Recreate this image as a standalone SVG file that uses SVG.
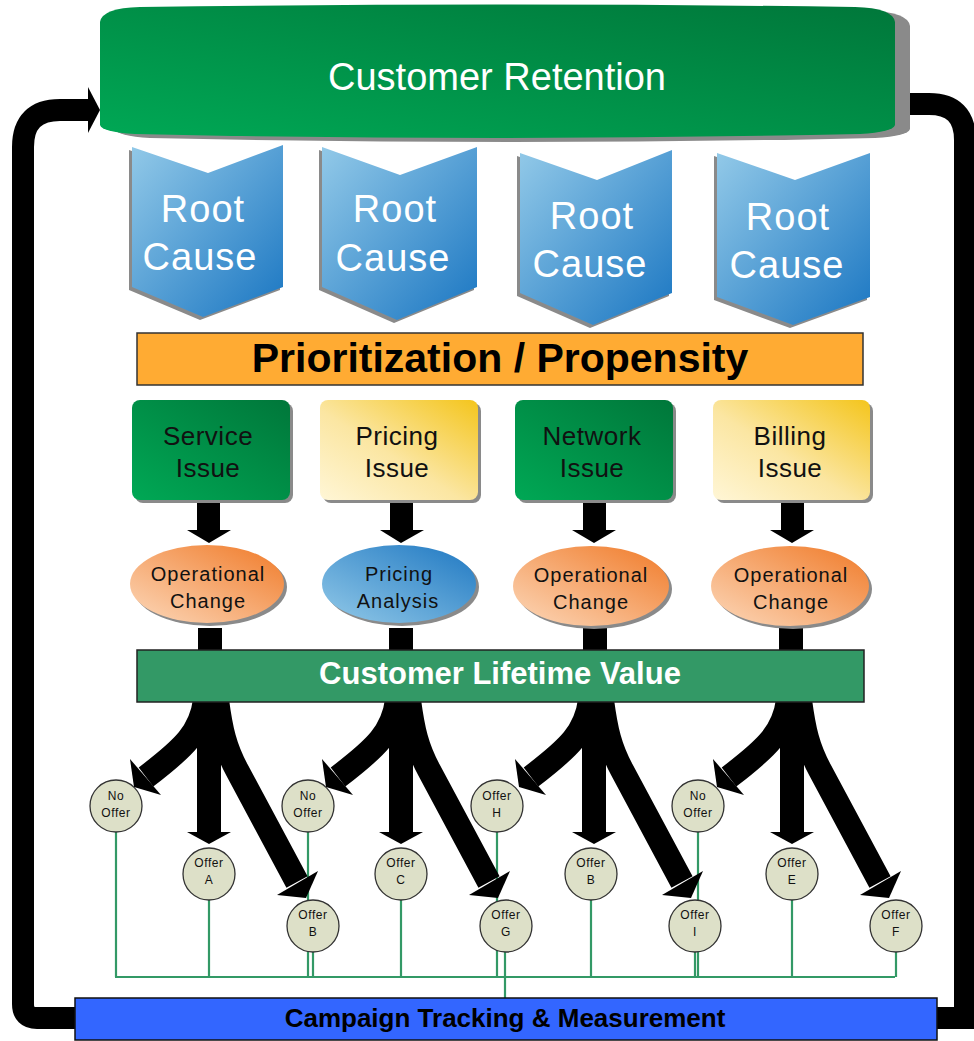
<svg xmlns="http://www.w3.org/2000/svg" width="974" height="1041" viewBox="0 0 974 1041">
<defs>
<linearGradient id="gBanner" x1="0" y1="1" x2="1" y2="0"><stop offset="0" stop-color="#00a855"/><stop offset="1" stop-color="#00773a"/></linearGradient>
<linearGradient id="gBlue" x1="0" y1="0" x2="1" y2="1"><stop offset="0" stop-color="#92c9e8"/><stop offset="1" stop-color="#1a76c2"/></linearGradient>
<linearGradient id="gGreen" x1="0" y1="1" x2="1" y2="0"><stop offset="0" stop-color="#00a855"/><stop offset="1" stop-color="#00773a"/></linearGradient>
<linearGradient id="gYellow" x1="0" y1="1" x2="1" y2="0"><stop offset="0" stop-color="#fff6d6"/><stop offset="0.45" stop-color="#fbe6a2"/><stop offset="1" stop-color="#f4c51c"/></linearGradient>
<linearGradient id="gOrange" x1="0" y1="1" x2="1" y2="0"><stop offset="0" stop-color="#fcd8ba"/><stop offset="1" stop-color="#f07a28"/></linearGradient>
<linearGradient id="gOvalBlue" x1="0" y1="1" x2="1" y2="0"><stop offset="0" stop-color="#92c9e8"/><stop offset="1" stop-color="#1f78c2"/></linearGradient>
<style>
.t{font-family:"Liberation Sans",Arial,sans-serif;}
.sh{fill:#8a8a8a;}
.rc{font-size:38px;fill:#fff;text-anchor:middle;letter-spacing:1px;}
.iss{font-size:26px;fill:#111;text-anchor:middle;letter-spacing:0.5px;}
.ov{font-size:20px;fill:#111;text-anchor:middle;letter-spacing:1px;}
.ci{fill:#dde0c8;stroke:#333;stroke-width:1.3;}
.ct{font-size:12px;fill:#111;text-anchor:middle;letter-spacing:0.6px;}
.gl{stroke:#339966;stroke-width:2.2;fill:none;}
.blk{fill:#000;}
.br{fill:none;stroke:#000;stroke-width:24;}
</style>
</defs>
<rect width="974" height="1041" fill="#fff"/>

<g id="connectors">
  <path d="M90,110 L60,110 Q23,110 23,147 L23,1004 Q23,1018 37,1018 L965,1018 L965,140 Q965,104 929,104 L900,104" fill="none" stroke="#000" stroke-width="22"/>
  <polygon class="blk" points="88,87 100,110 88,133"/>
  <polygon class="blk" points="901,81 889,104 901,127"/>
  <path class="gl" d="M115,977 L895,977"/>
  <path class="gl" d="M116,832 V977 M209,900 V977 M308,832 V977 M313,952 V977 M401,900 V977 M497,832 V977 M505,952 V998 M591,900 V977 M698,832 V977 M695,952 V977 M792,900 V977 M896,952 V977"/>
  <g class="blk">
    <rect x="197" y="503" width="23" height="27"/><polygon points="187,530 231,530 209,543"/>
    <rect x="390" y="503" width="23" height="27"/><polygon points="380,530 424,530 401,543"/>
    <rect x="583" y="503" width="23" height="27"/><polygon points="572,530 616,530 594,543"/>
    <rect x="781" y="503" width="23" height="27"/><polygon points="770,530 814,530 792,543"/>
  </g>
  <g class="blk">
    <rect x="198" y="628" width="24" height="23"/>
    <rect x="389" y="628" width="24" height="23"/>
    <rect x="583" y="628" width="24" height="23"/>
    <rect x="779" y="628" width="24" height="23"/>
  </g>
  <g id="branch1" transform="translate(209,0)">
    <path class="br" d="M-4,700 C-8,732 -25,748 -63,777"/>
    <polygon class="blk" points="-48,795 -79,759 -75,787"/>
    <rect class="blk" x="-12" y="700" width="24" height="132"/>
    <polygon class="blk" points="-22,832 22,832 0,844"/>
    <path class="br" d="M8,700 C12,730 16,748 28,770 L88,882"/>
    <polygon class="blk" points="109,871 68,895 97,898"/>
  </g>
  <g id="branch2" transform="translate(401,0)">
    <path class="br" d="M-4,700 C-8,732 -25,748 -63,777"/>
    <polygon class="blk" points="-48,795 -79,759 -75,787"/>
    <rect class="blk" x="-12" y="700" width="24" height="132"/>
    <polygon class="blk" points="-22,832 22,832 0,844"/>
    <path class="br" d="M8,700 C12,730 16,748 28,770 L88,882"/>
    <polygon class="blk" points="109,871 68,895 97,898"/>
  </g>
  <g id="branch3" transform="translate(594,0)">
    <path class="br" d="M-4,700 C-8,732 -25,748 -63,777"/>
    <polygon class="blk" points="-48,795 -79,759 -75,787"/>
    <rect class="blk" x="-12" y="700" width="24" height="132"/>
    <polygon class="blk" points="-22,832 22,832 0,844"/>
    <path class="br" d="M8,700 C12,730 16,748 28,770 L88,882"/>
    <polygon class="blk" points="109,871 68,895 97,898"/>
  </g>
  <g id="branch4" transform="translate(792,0)">
    <path class="br" d="M-4,700 C-8,732 -25,748 -63,777"/>
    <polygon class="blk" points="-48,795 -79,759 -75,787"/>
    <rect class="blk" x="-12" y="700" width="24" height="132"/>
    <polygon class="blk" points="-22,832 22,832 0,844"/>
    <path class="br" d="M8,700 C12,730 16,748 28,770 L88,882"/>
    <polygon class="blk" points="109,871 68,895 97,898"/>
  </g>
</g>

<g id="customer-retention">
  <path class="sh" transform="translate(15,4)" d="M100,22 Q102,8 140,7 Q497,2 855,7 Q893,8 895,22 L895,125 Q893,132 860,134 Q497,142 135,134 Q102,132 100,125 Z"/>
  <path fill="url(#gBanner)" d="M100,22 Q102,8 140,7 Q497,2 855,7 Q893,8 895,22 L895,125 Q893,132 860,134 Q497,142 135,134 Q102,132 100,125 Z"/>
  <text class="t" x="497" y="90" font-size="38" fill="#fff" text-anchor="middle">Customer Retention</text>
</g>

<g id="root-cause-1">
  <polygon class="sh" transform="translate(-3,3)" points="132,147 208,173 283,145 283,287 203,317 132,287"/>
  <polygon fill="url(#gBlue)" points="132,147 208,173 283,145 283,287 203,317 132,287"/>
  <text class="t rc" x="203" y="222">Root</text><text class="t rc" x="200" y="270">Cause</text>
</g>
<g id="root-cause-2">
  <polygon class="sh" transform="translate(-3,3)" points="322,147 400,175 477,147 477,287 397,320 322,287"/>
  <polygon fill="url(#gBlue)" points="322,147 400,175 477,147 477,287 397,320 322,287"/>
  <text class="t rc" x="395" y="222">Root</text><text class="t rc" x="393" y="271">Cause</text>
</g>
<g id="root-cause-3">
  <polygon class="sh" transform="translate(-3,3)" points="520,153 597,180 672,150 672,293 593,325 520,293"/>
  <polygon fill="url(#gBlue)" points="520,153 597,180 672,150 672,293 593,325 520,293"/>
  <text class="t rc" x="592" y="229">Root</text><text class="t rc" x="590" y="277">Cause</text>
</g>
<g id="root-cause-4">
  <polygon class="sh" transform="translate(-3,3)" points="717,153 795,180 870,153 870,297 793,325 717,297"/>
  <polygon fill="url(#gBlue)" points="717,153 795,180 870,153 870,297 793,325 717,297"/>
  <text class="t rc" x="788" y="230">Root</text><text class="t rc" x="787" y="278">Cause</text>
</g>

<g id="prioritization">
  <rect x="137" y="333" width="726" height="52" fill="#ffab33" stroke="#333" stroke-width="1.5"/>
  <text class="t" x="500" y="372" font-size="41" font-weight="bold" fill="#000" text-anchor="middle">Prioritization / Propensity</text>
</g>

<g id="service-issue">
  <rect class="sh" x="135" y="403" width="158" height="100" rx="8"/>
  <rect x="132" y="400" width="158" height="100" rx="8" fill="url(#gGreen)"/>
  <text class="t iss" x="208" y="445">Service</text><text class="t iss" x="208" y="477">Issue</text>
</g>
<g id="pricing-issue">
  <rect class="sh" x="323" y="403" width="158" height="100" rx="8"/>
  <rect x="320" y="400" width="158" height="100" rx="8" fill="url(#gYellow)"/>
  <text class="t iss" x="397" y="445">Pricing</text><text class="t iss" x="397" y="477">Issue</text>
</g>
<g id="network-issue">
  <rect class="sh" x="518" y="403" width="158" height="100" rx="8"/>
  <rect x="515" y="400" width="158" height="100" rx="8" fill="url(#gGreen)"/>
  <text class="t iss" x="592" y="445">Network</text><text class="t iss" x="592" y="477">Issue</text>
</g>
<g id="billing-issue">
  <rect class="sh" x="716" y="403" width="157" height="100" rx="8"/>
  <rect x="713" y="400" width="157" height="100" rx="8" fill="url(#gYellow)"/>
  <text class="t iss" x="790" y="445">Billing</text><text class="t iss" x="790" y="477">Issue</text>
</g>

<g id="operational-change-1">
  <ellipse class="sh" cx="210" cy="587" rx="77" ry="39"/>
  <ellipse cx="207" cy="584" rx="77" ry="39" fill="url(#gOrange)"/>
  <text class="t ov" x="208" y="581">Operational</text><text class="t ov" x="208" y="608">Change</text>
</g>
<g id="pricing-analysis">
  <ellipse class="sh" cx="402" cy="587" rx="77" ry="39"/>
  <ellipse cx="399" cy="584" rx="77" ry="39" fill="url(#gOvalBlue)"/>
  <text class="t ov" x="399" y="581">Pricing</text><text class="t ov" x="398" y="608">Analysis</text>
</g>
<g id="operational-change-2">
  <ellipse class="sh" cx="594" cy="589" rx="78" ry="40"/>
  <ellipse cx="591" cy="586" rx="78" ry="40" fill="url(#gOrange)"/>
  <text class="t ov" x="591" y="582">Operational</text><text class="t ov" x="591" y="609">Change</text>
</g>
<g id="operational-change-3">
  <ellipse class="sh" cx="793" cy="589" rx="79" ry="40"/>
  <ellipse cx="790" cy="586" rx="79" ry="40" fill="url(#gOrange)"/>
  <text class="t ov" x="791" y="582">Operational</text><text class="t ov" x="791" y="609">Change</text>
</g>

<g id="customer-lifetime-value">
  <rect x="137" y="650" width="727" height="52" fill="#339966" stroke="#222" stroke-width="1.5"/>
  <text class="t" x="500" y="684" font-size="31" font-weight="bold" fill="#fff" text-anchor="middle">Customer Lifetime Value</text>
</g>

<g id="no-offer-1"><circle class="ci" cx="116" cy="806" r="26"/><text class="t ct" x="116" y="800">No</text><text class="t ct" x="116" y="817">Offer</text></g>
<g id="offer-a"><circle class="ci" cx="209" cy="874" r="26"/><text class="t ct" x="209" y="867">Offer</text><text class="t ct" x="209" y="884">A</text></g>
<g id="offer-b-1"><circle class="ci" cx="313" cy="926" r="26"/><text class="t ct" x="313" y="919">Offer</text><text class="t ct" x="313" y="936">B</text></g>
<g id="no-offer-2"><circle class="ci" cx="308" cy="806" r="26"/><text class="t ct" x="308" y="800">No</text><text class="t ct" x="308" y="817">Offer</text></g>
<g id="offer-c"><circle class="ci" cx="401" cy="874" r="26"/><text class="t ct" x="401" y="867">Offer</text><text class="t ct" x="401" y="884">C</text></g>
<g id="offer-g"><circle class="ci" cx="506" cy="926" r="26"/><text class="t ct" x="506" y="919">Offer</text><text class="t ct" x="506" y="936">G</text></g>
<g id="offer-h"><circle class="ci" cx="497" cy="806" r="26"/><text class="t ct" x="497" y="800">Offer</text><text class="t ct" x="497" y="817">H</text></g>
<g id="offer-b-2"><circle class="ci" cx="591" cy="874" r="26"/><text class="t ct" x="591" y="867">Offer</text><text class="t ct" x="591" y="884">B</text></g>
<g id="offer-i"><circle class="ci" cx="695" cy="926" r="26"/><text class="t ct" x="695" y="919">Offer</text><text class="t ct" x="695" y="936">I</text></g>
<g id="no-offer-3"><circle class="ci" cx="698" cy="806" r="26"/><text class="t ct" x="698" y="800">No</text><text class="t ct" x="698" y="817">Offer</text></g>
<g id="offer-e"><circle class="ci" cx="792" cy="874" r="26"/><text class="t ct" x="792" y="867">Offer</text><text class="t ct" x="792" y="884">E</text></g>
<g id="offer-f"><circle class="ci" cx="896" cy="926" r="26"/><text class="t ct" x="896" y="919">Offer</text><text class="t ct" x="896" y="936">F</text></g>

<g id="campaign-tracking">
  <rect x="75" y="998" width="862" height="42" fill="#3366ff" stroke="#111" stroke-width="1.5"/>
  <text class="t" x="505" y="1027" font-size="26" font-weight="bold" fill="#000" text-anchor="middle">Campaign Tracking &amp; Measurement</text>
</g>
</svg>
